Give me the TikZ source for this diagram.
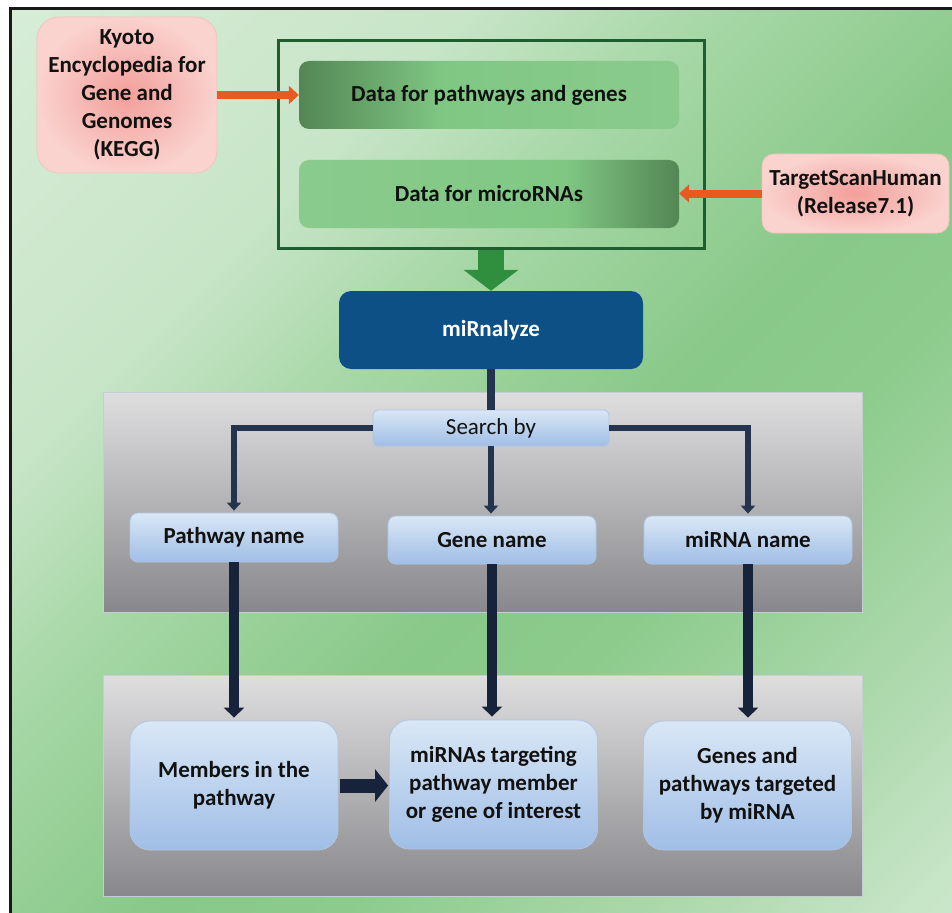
\documentclass[tikz,border=0pt]{standalone}
\usepackage{fontspec}
\setmainfont{Carlito}
\usetikzlibrary{arrows.meta,calc}
\definecolor{bgA}{HTML}{D6ECD6}
\definecolor{bgB}{HTML}{C8E5C8}
\definecolor{bgC}{HTML}{A6D7A6}
\definecolor{bgD}{HTML}{88C888}
\definecolor{bgE}{HTML}{8CCB8C}
\definecolor{bgF}{HTML}{AED9AE}
\definecolor{bgG}{HTML}{CAE6CA}
\definecolor{orangec}{HTML}{E85A24}
\definecolor{greenarr}{HTML}{2F8F3F}
\definecolor{framegreen}{HTML}{1E5E2E}
\definecolor{datadark}{HTML}{538654}
\definecolor{datalight}{HTML}{80C784}
\definecolor{datalight2}{HTML}{8ACB8D}
\definecolor{keggin}{HTML}{F29F9A}
\definecolor{keggout}{HTML}{FAD2CE}
\definecolor{keggborder}{HTML}{F3C4BF}
\definecolor{mirblue}{HTML}{0C5085}
\definecolor{navyA}{HTML}{24344E}
\definecolor{navyB}{HTML}{17233A}
\definecolor{graytop}{HTML}{DFDEDF}
\definecolor{graybot}{HTML}{88888C}
\definecolor{grayborder}{HTML}{C5CCD4}
\definecolor{bluetop}{HTML}{D9E7F6}
\definecolor{bluebot}{HTML}{A0BEE6}
\definecolor{blueborder}{HTML}{AFC6E2}
\definecolor{textc}{HTML}{111111}
\pgfdeclarehorizontalshading{bggrad}{100bp}{color(0bp)=(bgA); color(15bp)=(bgA); color(32bp)=(bgB); color(42bp)=(bgC); color(55bp)=(bgD); color(62bp)=(bgE); color(75bp)=(bgF); color(85bp)=(bgG); color(100bp)=(bgG)}
\pgfdeclarehorizontalshading{dataLR}{100bp}{color(0bp)=(datadark); color(25bp)=(datadark); color(44bp)=(datalight); color(75bp)=(datalight2); color(100bp)=(datalight2)}
\pgfdeclarehorizontalshading{dataRL}{100bp}{color(0bp)=(datalight2); color(25bp)=(datalight2); color(60bp)=(datalight); color(75bp)=(datadark); color(100bp)=(datadark)}
\tikzset{
  txt/.style={font=\fontsize{23}{28}\selectfont\bfseries, text=textc, align=center, inner sep=0pt},
  kegg/.style={txt, rounded corners=22pt, inner color=keggin, outer color=keggout, draw=keggborder, line width=0.8pt},
  databox/.style={txt, rounded corners=10pt, minimum width=380pt, minimum height=68pt},
  dframe/.style={draw=framegreen, line width=3pt, minimum width=426pt, minimum height=207pt, inner sep=0pt},
  mirbox/.style={txt, text=white, fill=mirblue, rounded corners=12pt, minimum width=304pt, minimum height=78pt},
  panel/.style={draw=grayborder, line width=0.8pt, top color=graytop, bottom color=graybot, minimum width=759pt, inner sep=0pt},
  bluebox/.style={txt, top color=bluetop, bottom color=bluebot, draw=blueborder, line width=0.8pt},
  smallblue/.style={bluebox, rounded corners=8pt, minimum width=208pt, minimum height=48pt},
  bigblue/.style={bluebox, rounded corners=20pt, minimum width=208pt, minimum height=129pt},
  orangearrow/.style={draw=orangec, line width=8pt, -{Triangle[width=18pt,length=10pt]}},
  greenarrow/.style={draw=greenarr, line width=26pt, -{Triangle[width=54pt,length=21pt]}},
  navyline/.style={draw=navyA, line width=8pt},
  navyarrow/.style={draw=navyA, line width=6pt, -{Triangle[width=14pt,length=8pt]}, shorten >=2pt},
  thickarrow/.style={draw=navyB, line width=10pt, -{Triangle[width=20pt,length=10pt]}, shorten >=3pt},
  blockarrow/.style={draw=navyB, line width=14pt, -{Triangle[width=32pt,length=13pt]}, shorten <=2pt, shorten >=1pt}
}
\begin{document}
\begin{tikzpicture}[x=1pt,y=-1pt]
\useasboundingbox (0,0) rectangle (952,912);
\clip (0,0) rectangle (952,912);
\fill[white] (0,0) rectangle (952,912);
\shade[shading=bggrad, shading angle=-45] (10,9) rectangle (952,912);
\draw[line width=3pt, black!90] (10,930) -- (10,9) -- (970,9);

% panels
\node[panel, minimum height=220pt] (panelA) at (482.5,502) {};
\node[panel, minimum height=221pt] (panelB) at (482.5,785.5) {};

% top sources
\node[kegg, minimum width=180pt, minimum height=156pt] (kegg) at (127,95) {Kyoto\\Encyclopedia for\\Gene and\\Genomes\\(KEGG)};
\node[dframe] (dframe) at (491,144.5) {};
\node[databox, shading=dataLR] (data1) at (489,95) {Data for pathways and genes};
\node[databox, shading=dataRL] (data2) at (489,194) {Data for microRNAs};
\node[kegg, rounded corners=12pt, minimum width=187pt, minimum height=79pt] (ts) at (855.5,193.5) {TargetScanHuman\\(Release7.1)};

\draw[orangearrow] (kegg.east) -- (data1.west);
\draw[orangearrow] (ts.west) -- (ts.west -| data2.east);

% miRnalyze
\node[mirbox] (mir) at (491,330) {miRnalyze};
\draw[greenarrow] (dframe.south) -- (dframe.south |- mir.north);

% search
\node[smallblue, font=\fontsize{23}{28}\selectfont, rounded corners=5pt, minimum width=236pt, minimum height=36pt] (search) at (491,428) {Search by};
\node[smallblue, minimum height=49pt] (path) at (234,537.5) {Pathway name};
\node[smallblue] (gene) at (492,540) {Gene name};
\node[smallblue] (mirna) at (748,540) {miRNA name};

\draw[navyline] (mir.south) -- (search.north);
\draw[navyarrow] (search.west) -| (path.north);
\draw[navyarrow] (search.south) -- (search.south |- gene.north);
\draw[navyarrow] (search.east) -| (mirna.north);

% results
\node[bigblue] (members) at (234,785.5) {Members in the\\pathway};
\node[bigblue] (targ) at (493.5,784.5) {miRNAs targeting\\pathway member\\or gene of interest};
\node[bigblue] (genes) at (747.5,785.5) {Genes and\\pathways targeted\\by miRNA};

\draw[thickarrow] (path.south) -- (members.north);
\draw[thickarrow] (gene.south) -- (gene.south |- targ.north);
\draw[thickarrow] (mirna.south) -- (mirna.south |- genes.north);
\draw[blockarrow] (members.east) -- (members.east -| targ.west);
\end{tikzpicture}
\end{document}
